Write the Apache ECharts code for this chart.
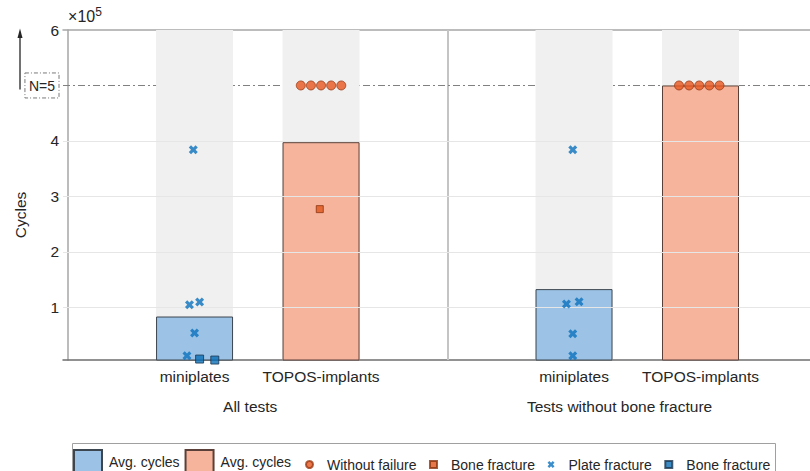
<!DOCTYPE html>
<html>
<head>
<meta charset="utf-8">
<script src="https://cdn.jsdelivr.net/npm/echarts@6/dist/echarts.min.js"></script>
<style>
html,body{margin:0;padding:0;background:#fff;overflow:hidden;width:810px;height:471px;}
#c{width:830px;height:471px;}
</style>
</head>
<body>
<div id="c"></div>
<script>
// ---- data ----
const categories = ['miniplates', 'TOPOS-implants', 'miniplates', 'TOPOS-implants'];
const categoryPos = [1, 2, 4, 5];
const groups = ['All tests', 'Tests without bone fracture'];
const groupPos = [1.44, 4.36];
const dividerPos = 3;
const yTicks = [100000, 200000, 300000, 400000, 500000, 600000];
const runoutLevel = 500000;

const avgMiniX = [1, 4];
const avgMiniY = [83400, 132800];
const avgToposX = [2, 5];
const avgToposY = [397700, 500000];

const withoutFailureX = [1.84, 1.92, 2.0, 2.08, 2.16, 4.83, 4.91, 4.99, 5.07, 5.15];
const withoutFailureY = [500000, 500000, 500000, 500000, 500000, 500000, 500000, 500000, 500000, 500000];

const boneToposX = [1.99];
const boneToposY = [277000];

const plateX = [0.99, 0.96, 1.04, 1.00, 0.94, 3.99, 3.94, 4.04, 3.99, 3.99];
const plateY = [384000, 104500, 109400, 53500, 12600, 384000, 105800, 110000, 52300, 12600];

const boneMiniX = [1.04, 1.16];
const boneMiniY = [6700, 4900];

const zip = (xs, ys) => xs.map((x, i) => [x, ys[i]]);

const FONT = 'Liberation Sans, Arial, Helvetica, sans-serif';
const TXT = '#262626';
const crossPath = 'path://M2.5,0 L5,2.5 L7.5,0 L10,2.5 L7.5,5 L10,7.5 L7.5,10 L5,7.5 L2.5,10 L0,7.5 L2.5,5 L0,2.5 Z';

const chart = echarts.init(document.getElementById('c'), null, {renderer: 'svg'});

const option = {
  animation: false,
  textStyle: {fontFamily: FONT, color: TXT},
  grid: {left: 63, top: 30, right: 3, bottom: 111, containLabel: false},
  xAxis: [
    {
      type: 'value', min: -0.04, max: 6, position: 'bottom',
      axisLine: {show: true, lineStyle: {color: '#6e6e6e', width: 1.5}},
      axisTick: {show: false},
      splitLine: {show: false},
      axisLabel: {
        customValues: categoryPos, margin: 8, fontSize: 15.5, color: TXT, fontFamily: FONT,
        formatter: v => { const i = categoryPos.indexOf(Math.round(v)); return i >= 0 ? categories[i] : ''; }
      }
    },
    {
      type: 'value', min: -0.04, max: 6, position: 'top',
      axisLine: {show: true, onZero: false, lineStyle: {color: '#a6a6a6', width: 1.5}},
      axisTick: {show: false}, axisLabel: {show: false}, splitLine: {show: false}
    },
    {
      type: 'value', min: -0.04, max: 6, position: 'bottom',
      axisLine: {show: false}, axisTick: {show: false}, splitLine: {show: false},
      axisLabel: {
        customValues: groupPos, margin: 38, fontSize: 15.5, color: TXT, fontFamily: FONT,
        formatter: v => { const i = groupPos.findIndex(g => Math.abs(g - v) < 1e-6); return i >= 0 ? groups[i] : ''; }
      }
    }
  ],
  yAxis: [
    {
      type: 'value', min: 5000, max: 600000,
      name: '×10{sup|5}', nameLocation: 'end', nameGap: 4,
      nameTextStyle: {align: 'left', fontSize: 16, color: TXT, fontFamily: FONT, padding: [0, 0, 0, 0],
        rich: {sup: {fontSize: 12, verticalAlign: 'top', color: TXT, fontFamily: FONT, padding: [0, 0, 8, 0]}}},
      axisLine: {show: true, lineStyle: {color: '#a6a6a6', width: 1.5}},
      axisTick: {show: false},
      splitLine: {show: false},
      axisLabel: {
        customValues: yTicks, margin: 4, fontSize: 15.5, color: TXT, fontFamily: FONT,
        formatter: v => v === runoutLevel ? '{box|N=5}' : String(Math.round(v / 100000)),
        rich: {box: {fontSize: 14, color: TXT, fontFamily: FONT, padding: [6, 4, 5, 4],
          borderColor: '#7a7a7a', borderWidth: 1, borderType: [4, 2, 1, 2]}}
      }
    },
    {
      type: 'value', min: 5000, max: 600000, position: 'left',
      name: 'Cycles', nameLocation: 'middle', nameGap: 35, nameRotate: 90,
      nameTextStyle: {fontSize: 15.5, color: TXT, fontFamily: FONT, padding: [0, 40, 0, 0]},
      axisLine: {show: false}, axisTick: {show: false}, axisLabel: {show: false}, splitLine: {show: false}
    }
  ],
  legend: [
    {
      left: 73, top: 449, itemWidth: 28, itemHeight: 24, itemGap: 5, padding: 0,
      data: [{name: 'Avg. cycles', icon: 'rect'}, {name: 'Avg. cycles ', icon: 'rect'}],
      formatter: n => n.trim(),
      textStyle: {fontSize: 14, color: TXT, fontFamily: FONT, padding: [0, 0, 0, 2]},
      selectedMode: false
    },
    {
      left: 305, top: 457.5, itemWidth: 7, itemHeight: 7, itemGap: 12.5, padding: 0,
      data: [{name: 'Without failure', icon: 'circle'}, {name: 'Bone fracture', icon: 'rect'},
             {name: 'Plate fracture'}, {name: 'Bone fracture ', icon: 'rect'}],
      formatter: n => n.trim(),
      textStyle: {fontSize: 14, color: TXT, fontFamily: FONT, padding: [0, 0, 0, 9]},
      selectedMode: false
    }
  ],
  series: [
    {
      name: 'Avg. cycles', type: 'bar', xAxisIndex: 0, yAxisIndex: 0,
      data: zip(avgMiniX, avgMiniY), barWidth: 77, barGap: '-100%', z: 2,
      showBackground: true, backgroundStyle: {color: '#f0f0f0'},
      itemStyle: {color: '#9cc3e5', borderColor: '#3c4650', borderWidth: 1}
    },
    {
      name: 'Avg. cycles ', type: 'bar', xAxisIndex: 0, yAxisIndex: 0,
      data: zip(avgToposX, avgToposY), barWidth: 77, barGap: '-100%', z: 2,
      showBackground: true, backgroundStyle: {color: '#f0f0f0'},
      itemStyle: {color: '#f7b49d', borderColor: '#5a4038', borderWidth: 1},
      markLine: {
        silent: true, symbol: 'none', z: 3, label: {show: false},
        lineStyle: {color: '#e6e6e6', width: 1, type: 'solid'},
        data: yTicks.filter(v => v < runoutLevel).map(v => ({yAxis: v}))
      }
    },
    {
      name: 'Without failure', type: 'scatter', xAxisIndex: 0, yAxisIndex: 0, z: 10, clip: false,
      data: zip(withoutFailureX, withoutFailureY), symbol: 'circle', symbolSize: 9,
      itemStyle: {color: '#e8561f', borderColor: '#9a3812', borderWidth: 1}
    },
    {
      name: 'Bone fracture', type: 'scatter', xAxisIndex: 0, yAxisIndex: 0, z: 10, clip: false,
      data: zip(boneToposX, boneToposY), symbol: 'rect', symbolSize: 7,
      itemStyle: {color: '#e0561c', borderColor: '#8a3510', borderWidth: 1}
    },
    {
      name: 'Plate fracture', type: 'scatter', xAxisIndex: 0, yAxisIndex: 0, z: 10, clip: false,
      data: zip(plateX, plateY), symbol: crossPath, symbolSize: 9,
      itemStyle: {color: '#0b72bd'}
    },
    {
      name: 'Bone fracture ', type: 'scatter', xAxisIndex: 0, yAxisIndex: 0, z: 10, clip: false,
      data: zip(boneMiniX, boneMiniY), symbol: 'rect', symbolSize: 8,
      itemStyle: {color: '#0b6fb8', borderColor: '#1c3550', borderWidth: 1},
      markLine: {
        silent: true, symbol: 'none', z: 1, label: {show: false},
        data: [
          {xAxis: dividerPos, lineStyle: {color: '#c4c4c4', width: 2, type: 'solid'}},
          {yAxis: runoutLevel, lineStyle: {color: '#808080', width: 1, type: [7, 3, 2, 3]}}
        ]
      }
    }
  ]
};
chart.setOption(option);

// annotation arrow and legend frame, positioned from the axis scale
const y5 = chart.convertToPixel({yAxisIndex: 0}, runoutLevel);
const y6 = chart.convertToPixel({yAxisIndex: 0}, 600000);
chart.setOption({
  graphic: [
    {type: 'rect', left: 72, top: 443, shape: {width: 703, height: 40}, z: -1,
      style: {fill: '#fff', stroke: '#a0a0a0', lineWidth: 1}},
    {type: 'line', shape: {x1: 20, y1: y5 + 4, x2: 20, y2: y6 + 6}, style: {stroke: TXT, lineWidth: 1.3}},
    {type: 'polygon', shape: {points: [[20, y6 - 1.5], [17.5, y6 + 8], [22.5, y6 + 8]]}, style: {fill: TXT}}
  ]
});
</script>
</body>
</html>
